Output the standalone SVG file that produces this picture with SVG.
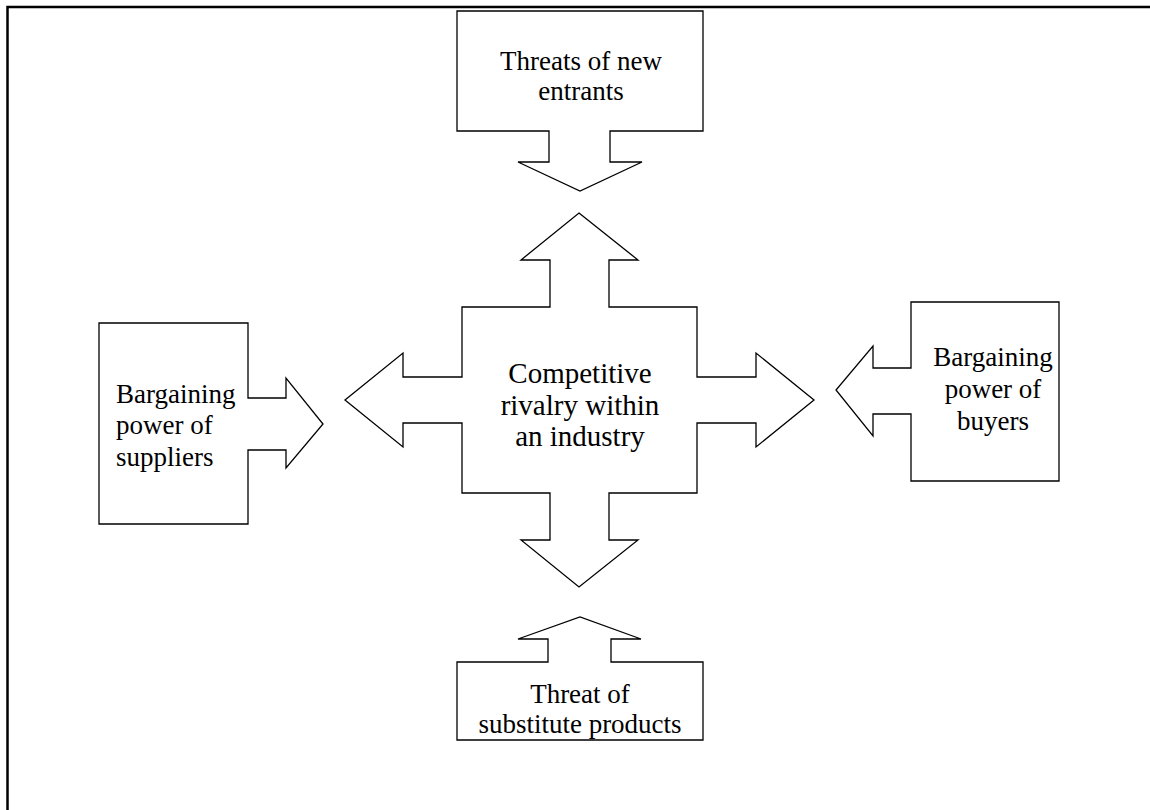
<svg xmlns="http://www.w3.org/2000/svg" width="1150" height="810" viewBox="0 0 1150 810">
  <style>
    .shape { fill: #ffffff; stroke: #000000; stroke-width: 1.3; stroke-linejoin: miter; }
    .frame { fill: none; stroke: #000000; stroke-width: 2.5; }
    .lbl { font-family: "Liberation Serif", "Times New Roman", serif; font-size: 27px; fill: #000000; }
    .mid { text-anchor: middle; }
    .core { font-size: 29px; }
  </style>
  <rect width="1150" height="810" fill="#ffffff"/>

  <!-- page frame: top and left rules -->
  <path class="frame" d="M7.5,810 V7 H1150"/>

  <!-- arrows are drawn as part of each node outline -->
  <g id="connectors"></g>

  <!-- top: new entrants, box with arrow pointing down -->
  <g id="node-new-entrants">
    <path class="shape" d="M457,11 H703 V131 H610 V162 H642 L580,191 L518,162 H549 V131 H457 Z"/>
    <text class="lbl mid" x="581" y="70">Threats of new</text>
    <text class="lbl mid" x="581" y="100">entrants</text>
  </g>

  <!-- left: suppliers, box with arrow pointing right -->
  <g id="node-suppliers">
    <path class="shape" d="M99,323 H248 V398 H286 V378 L323,424 L286,468 V450 H248 V524 H99 Z"/>
    <text class="lbl" x="116" y="403">Bargaining</text>
    <text class="lbl" x="116" y="434">power of</text>
    <text class="lbl" x="116" y="466">suppliers</text>
  </g>

  <!-- right: buyers, box with arrow pointing left -->
  <g id="node-buyers">
    <path class="shape" d="M911,302 H1059 V481 H911 V414 H873 V436 L836,390 L873,346 V368 H911 Z"/>
    <text class="lbl mid" x="993" y="366">Bargaining</text>
    <text class="lbl mid" x="993" y="398">power of</text>
    <text class="lbl mid" x="993" y="430">buyers</text>
  </g>

  <!-- bottom: substitutes, box with arrow pointing up -->
  <g id="node-substitutes">
    <path class="shape" d="M457,662 H548 V639 H518 L580,617 L641,639 H611 V662 H703 V740 H457 Z"/>
    <text class="lbl mid" x="580" y="703">Threat of</text>
    <text class="lbl mid" x="580" y="733">substitute products</text>
  </g>

  <!-- centre: four-way arrow -->
  <g id="node-rivalry">
    <path class="shape" d="M579,213 L638,260 H609 V307 H697 V377 H756 V353 L814,400 L756,447 V423 H697 V493 H609 V540 H638 L579,587 L521,540 H550 V493 H462 V423 H403 V447 L345,400 L403,353 V377 H462 V307 H550 V260 H521 Z"/>
    <text class="lbl core mid" x="580" y="383">Competitive</text>
    <text class="lbl core mid" x="580" y="415">rivalry within</text>
    <text class="lbl core mid" x="580" y="446">an industry</text>
  </g>
</svg>
